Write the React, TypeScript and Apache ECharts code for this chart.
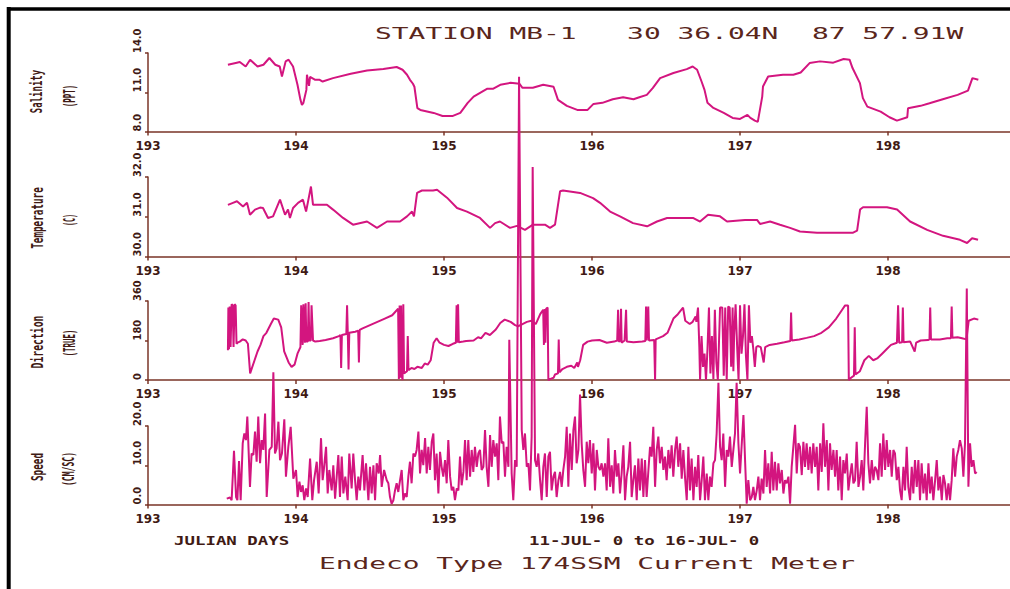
import React, { useEffect, useRef } from "react";
import * as echarts from "echarts";

// ---------- data ----------
const DAY_MIN = 193;
const DAY_MAX = 198.824;
const dayTicks = [193, 194, 195, 196, 197, 198];
const salinityTicks = [8, 11, 14];
const temperatureTicks = [30, 31, 32];
const directionTicks = [0, 180, 360];
const speedTicks = [0, 10, 20];

const title = "STATION MB-1   30 36.04N  87 57.91W";
const xAxisCaption = "JULIAN DAYS";
const dateRange = "11-JUL- 0 to 16-JUL- 0";
const footer = "Endeco Type 174SSM Current Meter";

// [julian day, salinity PPT]
const salinity = [
  [193.54, 13.1], [193.6, 13.26], [193.62, 13.31], [193.66, 12.97], [193.69, 13.49], [193.74, 12.97],
  [193.78, 13.1], [193.82, 13.62], [193.86, 13.1], [193.89, 12.97], [193.905, 12.21], [193.93, 13.36],
  [193.95, 13.49], [193.98, 12.97], [194.01, 11.57], [194.03, 10.42], [194.04, 10.03], [194.05, 10.19],
  [194.07, 11.18], [194.074, 12.34], [194.088, 11.49], [194.095, 12.18], [194.13, 11.95], [194.16, 11.95],
  [194.18, 11.82], [194.25, 12.08], [194.37, 12.41], [194.48, 12.67], [194.59, 12.77], [194.68, 12.93],
  [194.72, 12.72], [194.75, 12.34], [194.77, 11.95], [194.79, 11.65], [194.8, 11.42], [194.82, 9.78],
  [194.84, 9.65], [194.93, 9.42], [194.99, 9.19], [195.06, 9.19], [195.11, 9.42], [195.16, 10.19],
  [195.2, 10.67], [195.29, 11.26], [195.33, 11.26], [195.38, 11.57], [195.45, 11.72], [195.51, 11.65],
  [195.53, 11.34], [195.6, 11.34], [195.67, 11.57], [195.74, 11.42], [195.77, 10.42], [195.83, 9.96],
  [195.9, 9.65], [195.97, 9.65], [196.01, 10.11], [196.07, 10.19], [196.14, 10.47], [196.21, 10.62],
  [196.28, 10.47], [196.32, 10.62], [196.37, 10.8], [196.41, 11.32], [196.46, 12.08], [196.55, 12.47],
  [196.64, 12.77], [196.68, 12.97], [196.71, 12.72], [196.74, 11.82], [196.76, 11.18], [196.78, 10.19],
  [196.82, 9.8], [196.89, 9.42], [196.95, 9.04], [197.0, 8.96], [197.05, 9.27], [197.07, 9.04],
  [197.1, 8.83], [197.12, 8.73], [197.15, 10.67], [197.155, 11.44], [197.19, 12.21], [197.29, 12.34],
  [197.36, 12.34], [197.41, 12.51], [197.47, 13.23], [197.54, 13.36], [197.63, 13.26], [197.7, 13.54],
  [197.74, 13.49], [197.76, 12.85], [197.81, 11.7], [197.83, 10.55], [197.86, 9.9], [197.95, 9.52],
  [198.01, 9.09], [198.06, 8.83], [198.13, 9.09], [198.135, 9.78], [198.22, 9.96], [198.28, 10.16],
  [198.37, 10.47], [198.47, 10.8], [198.54, 11.13], [198.57, 12.08], [198.61, 11.95],
];

// [julian day, temperature C]
const temperature = [
  [193.54, 31.3], [193.574, 31.35], [193.601, 31.39], [193.642, 31.26], [193.669, 31.35], [193.689, 31.05],
  [193.723, 31.18], [193.757, 31.23], [193.777, 31.22], [193.811, 30.97], [193.845, 31.01], [193.892, 31.43],
  [193.926, 31.05], [193.946, 31.18], [193.959, 30.97], [193.98, 31.22], [194.014, 31.35], [194.047, 31.43],
  [194.068, 31.13], [194.101, 31.76], [194.115, 31.3], [194.162, 31.3], [194.209, 31.3], [194.25, 31.18],
  [194.318, 30.97], [194.385, 30.8], [194.48, 30.88], [194.547, 30.72], [194.615, 30.88], [194.703, 30.88],
  [194.75, 31.01], [194.784, 31.13], [194.797, 31.01], [194.818, 31.6], [194.851, 31.66], [194.926, 31.66],
  [194.953, 31.68], [195.02, 31.48], [195.088, 31.22], [195.155, 31.13], [195.243, 30.97], [195.311, 30.72],
  [195.345, 30.84], [195.378, 30.88], [195.446, 30.72], [195.493, 30.77], [195.547, 30.67], [195.601, 30.8],
  [195.682, 30.8], [195.716, 30.72], [195.75, 30.8], [195.784, 31.64], [195.804, 31.66], [195.919, 31.6],
  [196.007, 31.47], [196.054, 31.35], [196.122, 31.13], [196.189, 31.01], [196.277, 30.84], [196.372, 30.76],
  [196.439, 30.88], [196.507, 30.97], [196.682, 30.97], [196.73, 30.88], [196.784, 31.05], [196.865, 31.01],
  [196.912, 30.88], [197.034, 30.92], [197.115, 30.92], [197.135, 30.82], [197.203, 30.88], [197.27, 30.8],
  [197.338, 30.72], [197.405, 30.63], [197.52, 30.6], [197.764, 30.6], [197.791, 30.65], [197.811, 31.18],
  [197.831, 31.24], [197.993, 31.24], [198.061, 31.18], [198.149, 30.88], [198.264, 30.67], [198.372, 30.52],
  [198.486, 30.42], [198.534, 30.34], [198.568, 30.46], [198.608, 30.42],
];

// [julian day, direction deg true]
const direction = [
  [193.54, 136], [193.543, 330], [193.547, 140], [193.552, 335], [193.558, 150], [193.565, 345], [193.572, 340],
  [193.578, 150], [193.585, 345], [193.592, 340], [193.598, 165], [193.605, 170], [193.62, 175], [193.64, 185],
  [193.66, 180], [193.675, 165], [193.69, 30], [193.72, 90], [193.74, 130], [193.76, 160], [193.78, 200],
  [193.8, 215], [193.83, 255], [193.85, 280], [193.88, 275], [193.9, 240], [193.92, 130], [193.95, 80],
  [193.97, 60], [193.99, 70], [194.01, 120], [194.03, 150], [194.035, 340], [194.045, 160], [194.05, 345],
  [194.06, 170], [194.065, 350], [194.07, 175], [194.08, 175], [194.085, 355], [194.09, 180], [194.1, 180],
  [194.105, 340], [194.115, 180], [194.13, 175], [194.16, 178], [194.2, 182], [194.25, 190], [194.29, 200],
  [194.3, 205], [194.305, 55], [194.31, 205], [194.34, 210], [194.345, 340], [194.35, 210], [194.355, 48],
  [194.36, 215], [194.4, 220], [194.42, 225], [194.425, 80], [194.43, 228], [194.45, 235], [194.5, 250],
  [194.55, 265], [194.6, 280], [194.65, 295], [194.67, 310], [194.69, 325], [194.695, 5], [194.7, 340],
  [194.705, 10], [194.71, 340], [194.715, 20], [194.72, 0], [194.725, 345], [194.73, 30], [194.75, 40],
  [194.755, 200], [194.76, 45], [194.78, 55], [194.8, 50], [194.82, 60], [194.85, 55], [194.87, 75],
  [194.89, 70], [194.91, 90], [194.93, 170], [194.95, 190], [194.97, 170], [195.0, 160], [195.03, 155],
  [195.06, 165], [195.08, 170], [195.085, 340], [195.09, 170], [195.095, 345], [195.1, 172], [195.13, 175],
  [195.15, 178], [195.2, 180], [195.23, 195], [195.25, 190], [195.28, 215], [195.31, 205], [195.35, 230],
  [195.38, 260], [195.41, 275], [195.45, 265], [195.48, 250], [195.5, 245], [195.53, 255], [195.56, 265],
  [195.59, 270], [195.62, 255], [195.65, 300], [195.67, 320], [195.675, 160], [195.68, 323], [195.685, 170],
  [195.69, 325], [195.7, 330], [195.705, 0], [195.72, 5], [195.74, 10], [195.75, 25], [195.77, 30],
  [195.775, 185], [195.78, 35], [195.8, 50], [195.83, 60], [195.86, 65], [195.88, 55], [195.9, 80],
  [195.905, 60], [195.92, 90], [195.94, 160], [195.97, 175], [196.0, 180], [196.05, 182], [196.1, 170],
  [196.15, 175], [196.17, 180], [196.176, 320], [196.18, 175], [196.19, 178], [196.196, 325], [196.2, 170],
  [196.22, 180], [196.23, 320], [196.235, 175], [196.28, 172], [196.34, 175], [196.36, 178], [196.365, 335],
  [196.37, 180], [196.38, 335], [196.385, 180], [196.42, 182], [196.426, 0], [196.43, 185], [196.48, 200],
  [196.51, 215], [196.55, 280], [196.58, 300], [196.615, 330], [196.63, 270], [196.66, 255], [196.68, 265],
  [196.7, 290], [196.705, 265], [196.716, 330], [196.725, 150], [196.73, 0], [196.74, 200], [196.75, 60],
  [196.76, 120], [196.77, 0], [196.78, 140], [196.79, 330], [196.8, 30], [196.81, 200], [196.82, 5],
  [196.83, 320], [196.84, 80], [196.85, 0], [196.865, 330], [196.88, 330], [196.89, 20], [196.9, 330],
  [196.91, 0], [196.92, 335], [196.93, 330], [196.94, 60], [196.95, 330], [196.955, 40], [196.96, 200],
  [196.97, 345], [196.98, 160], [196.99, 0], [197.0, 340], [197.01, 120], [197.02, 200], [197.03, 345],
  [197.04, 110], [197.05, 0], [197.06, 340], [197.07, 170], [197.08, 200], [197.09, 140], [197.1, 60],
  [197.11, 150], [197.12, 155], [197.14, 150], [197.16, 80], [197.17, 150], [197.2, 160], [197.25, 165],
  [197.3, 172], [197.34, 178], [197.345, 308], [197.35, 180], [197.4, 185], [197.45, 192], [197.5, 200],
  [197.55, 215], [197.6, 240], [197.65, 280], [197.69, 320], [197.71, 340], [197.73, 340], [197.735, 0],
  [197.75, 10], [197.77, 20], [197.775, 240], [197.78, 25], [197.81, 40], [197.84, 90], [197.87, 110],
  [197.9, 90], [197.93, 100], [197.96, 120], [197.99, 140], [198.02, 160], [198.06, 170], [198.068, 340],
  [198.075, 170], [198.095, 172], [198.1, 330], [198.105, 172], [198.15, 175], [198.18, 130], [198.19, 170],
  [198.22, 180], [198.27, 182], [198.28, 185], [198.285, 330], [198.29, 185], [198.35, 185], [198.4, 190],
  [198.425, 190], [198.43, 335], [198.435, 192], [198.47, 195], [198.5, 190], [198.53, 185], [198.545, 270],
  [198.58, 280], [198.61, 275],
];

// [julian day, speed cm/s]
const speed = [
  [193.532, 1.5], [193.554, 1.8], [193.565, 1.1], [193.581, 13.7], [193.595, 1.9], [193.604, 1.1], [193.615, 11.1],
  [193.626, 1.1], [193.64, 15.6], [193.651, 18.1], [193.662, 16.4], [193.671, 22.4], [193.689, 4.5], [193.7, 13.0],
  [193.712, 12.6], [193.723, 18.6], [193.734, 10.9], [193.745, 22.4], [193.757, 10.5], [193.768, 16.4], [193.779, 13.9],
  [193.791, 23.2], [193.802, 1.9], [193.82, 13.9], [193.836, 14.7], [193.847, 33.7], [193.858, 13.0], [193.869, 14.3],
  [193.881, 21.1], [193.892, 11.3], [193.905, 13.0], [193.921, 21.7], [193.932, 7.1], [193.948, 14.7], [193.964, 19.8],
  [193.982, 6.6], [194.0, 8.8], [194.011, 1.9], [194.023, 5.8], [194.034, 3.2], [194.045, 4.9], [194.056, 1.1],
  [194.068, 4.1], [194.079, 1.9], [194.095, 11.7], [194.11, 1.1], [194.122, 6.2], [194.14, 10.9], [194.153, 2.8],
  [194.169, 16.9], [194.18, 6.2], [194.189, 9.2], [194.203, 14.7], [194.214, 2.8], [194.225, 8.8], [194.241, 3.6],
  [194.252, 10.0], [194.264, 1.5], [194.275, 7.1], [194.286, 12.6], [194.297, 1.9], [194.309, 12.2], [194.32, 2.8],
  [194.333, 7.1], [194.349, 1.1], [194.36, 13.0], [194.376, 4.1], [194.387, 13.0], [194.399, 6.2], [194.41, 1.1],
  [194.421, 7.1], [194.432, 3.6], [194.45, 12.6], [194.462, 3.6], [194.473, 10.5], [194.489, 1.1], [194.5, 9.6],
  [194.511, 2.8], [194.523, 10.0], [194.534, 1.1], [194.545, 10.5], [194.559, 7.9], [194.568, 12.6], [194.579, 4.5],
  [194.595, 8.8], [194.613, 6.2], [194.624, 5.4], [194.635, 1.9], [194.646, 0.2], [194.658, 1.1], [194.669, 3.6],
  [194.68, 5.4], [194.691, 3.2], [194.703, 6.2], [194.714, 8.8], [194.725, 1.1], [194.736, 2.8], [194.748, 1.9],
  [194.759, 7.1], [194.77, 10.9], [194.781, 5.4], [194.793, 13.0], [194.804, 12.2], [194.815, 13.9], [194.827, 18.6],
  [194.838, 7.9], [194.849, 13.9], [194.86, 10.0], [194.872, 16.9], [194.883, 7.9], [194.894, 14.7], [194.905, 8.8],
  [194.917, 16.0], [194.928, 18.1], [194.939, 6.2], [194.95, 13.0], [194.962, 2.8], [194.973, 13.4], [194.984, 9.6],
  [194.995, 7.1], [195.007, 11.3], [195.018, 5.4], [195.029, 16.4], [195.041, 7.1], [195.052, 3.6], [195.063, 4.5],
  [195.074, 1.1], [195.086, 4.1], [195.097, 3.6], [195.108, 12.2], [195.119, 4.9], [195.131, 8.3], [195.142, 16.4],
  [195.153, 6.2], [195.164, 16.4], [195.176, 7.1], [195.187, 13.9], [195.198, 8.3], [195.209, 14.7], [195.221, 9.6],
  [195.232, 13.0], [195.243, 13.9], [195.254, 8.8], [195.266, 9.6], [195.277, 19.0], [195.288, 9.6], [195.3, 4.5],
  [195.311, 17.7], [195.322, 9.6], [195.333, 16.4], [195.345, 12.2], [195.356, 15.6], [195.367, 6.2], [195.378, 22.4],
  [195.39, 15.6], [195.401, 16.0], [195.412, 7.1], [195.423, 14.7], [195.435, 9.6], [195.441, 42.0], [195.457, 7.9],
  [195.468, 1.1], [195.48, 11.3], [195.491, 9.6], [195.507, 109.0], [195.525, 19.0], [195.536, 13.9], [195.547, 18.1],
  [195.559, 9.6], [195.57, 10.5], [195.581, 3.6], [195.592, 17.3], [195.599, 86.0], [195.615, 11.3], [195.626, 9.6],
  [195.637, 13.0], [195.649, 6.2], [195.66, 1.1], [195.671, 9.6], [195.682, 13.0], [195.694, 1.9], [195.705, 12.2],
  [195.716, 13.4], [195.727, 3.6], [195.739, 7.1], [195.75, 8.3], [195.761, 1.9], [195.773, 6.2], [195.784, 8.3],
  [195.795, 4.5], [195.806, 8.8], [195.818, 12.2], [195.829, 19.8], [195.84, 4.5], [195.851, 18.1], [195.863, 8.8],
  [195.874, 19.0], [195.885, 22.4], [195.896, 10.5], [195.908, 13.9], [195.919, 28.0], [195.93, 15.6], [195.941, 8.8],
  [195.953, 4.5], [195.964, 16.0], [195.975, 10.5], [195.986, 16.4], [195.998, 7.9], [196.009, 15.6], [196.02, 3.6],
  [196.032, 13.9], [196.043, 9.6], [196.054, 8.8], [196.065, 10.5], [196.077, 7.1], [196.088, 10.5], [196.099, 3.6],
  [196.11, 16.9], [196.122, 4.5], [196.133, 10.0], [196.144, 2.8], [196.155, 13.9], [196.167, 7.1], [196.178, 10.5],
  [196.189, 2.8], [196.2, 7.9], [196.212, 15.1], [196.223, 1.1], [196.234, 7.1], [196.245, 9.6], [196.257, 16.0],
  [196.268, 1.9], [196.279, 6.2], [196.29, 10.0], [196.302, 1.1], [196.313, 11.7], [196.324, 3.6], [196.336, 11.7],
  [196.347, 1.9], [196.358, 11.3], [196.369, 1.9], [196.381, 8.8], [196.392, 14.7], [196.403, 12.2], [196.414, 19.8],
  [196.426, 4.5], [196.437, 13.9], [196.448, 17.3], [196.459, 10.5], [196.471, 14.7], [196.482, 8.8], [196.493, 12.2],
  [196.504, 6.2], [196.516, 13.9], [196.527, 9.2], [196.538, 15.1], [196.549, 7.1], [196.561, 13.9], [196.572, 17.3],
  [196.583, 9.6], [196.595, 15.6], [196.606, 6.6], [196.617, 13.9], [196.628, 7.1], [196.64, 1.1], [196.651, 14.7],
  [196.662, 3.6], [196.673, 11.7], [196.685, 1.1], [196.696, 9.6], [196.707, 4.5], [196.718, 12.6], [196.73, 1.1],
  [196.741, 6.2], [196.752, 12.2], [196.763, 1.1], [196.775, 7.9], [196.786, 1.1], [196.797, 7.1], [196.808, 4.5],
  [196.82, 10.5], [196.831, 11.3], [196.842, 18.1], [196.854, 31.0], [196.865, 14.7], [196.876, 11.3], [196.887, 18.1],
  [196.899, 4.5], [196.91, 13.9], [196.921, 12.2], [196.932, 17.3], [196.944, 9.6], [196.955, 13.9], [196.966, 18.1],
  [196.977, 31.0], [196.989, 15.6], [197.0, 7.9], [197.023, 22.8], [197.034, 11.3], [197.045, 0.2], [197.056, 6.2],
  [197.068, 1.1], [197.079, 1.9], [197.09, 4.5], [197.101, 1.1], [197.113, 3.6], [197.124, 7.1], [197.135, 1.1],
  [197.146, 6.6], [197.158, 2.8], [197.169, 13.9], [197.18, 4.5], [197.191, 10.5], [197.203, 2.8], [197.214, 13.4],
  [197.225, 3.6], [197.236, 10.9], [197.248, 3.6], [197.259, 10.5], [197.27, 5.4], [197.282, 8.8], [197.293, 2.8],
  [197.304, 6.2], [197.315, 5.4], [197.327, 7.1], [197.338, 0.2], [197.349, 9.6], [197.36, 14.7], [197.372, 20.3],
  [197.383, 7.9], [197.394, 15.6], [197.405, 14.7], [197.417, 7.5], [197.428, 16.0], [197.439, 9.6], [197.45, 15.6],
  [197.462, 8.8], [197.473, 14.7], [197.484, 7.9], [197.495, 15.6], [197.507, 9.6], [197.518, 14.7], [197.529, 3.6],
  [197.541, 15.6], [197.552, 8.3], [197.563, 20.7], [197.574, 9.6], [197.586, 16.4], [197.597, 3.6], [197.608, 15.6],
  [197.619, 8.8], [197.631, 13.9], [197.642, 7.1], [197.653, 13.9], [197.664, 3.6], [197.676, 12.2], [197.687, 1.1],
  [197.698, 11.3], [197.709, 7.9], [197.721, 13.0], [197.732, 3.6], [197.743, 7.1], [197.755, 10.5], [197.766, 5.4],
  [197.777, 6.2], [197.788, 16.0], [197.8, 4.5], [197.811, 7.1], [197.822, 11.3], [197.833, 3.6], [197.845, 15.6],
  [197.856, 24.9], [197.867, 10.5], [197.878, 5.4], [197.89, 11.3], [197.901, 6.2], [197.912, 9.6], [197.923, 8.8],
  [197.935, 6.2], [197.946, 15.6], [197.957, 7.1], [197.968, 18.1], [197.98, 8.8], [197.991, 16.4], [198.002, 9.6],
  [198.014, 13.9], [198.025, 7.1], [198.036, 13.9], [198.047, 13.0], [198.059, 6.2], [198.07, 9.6], [198.081, 3.6],
  [198.092, 1.1], [198.104, 9.6], [198.115, 3.6], [198.126, 14.7], [198.137, 4.5], [198.149, 1.1], [198.16, 9.6],
  [198.171, 2.8], [198.182, 11.3], [198.194, 4.5], [198.205, 11.3], [198.216, 1.1], [198.227, 10.5], [198.239, 2.8],
  [198.25, 7.9], [198.261, 1.1], [198.273, 10.5], [198.284, 2.8], [198.295, 7.1], [198.306, 1.1], [198.318, 6.2],
  [198.329, 11.3], [198.34, 3.6], [198.351, 7.1], [198.363, 1.1], [198.374, 7.5], [198.385, 5.4], [198.396, 1.1],
  [198.408, 5.4], [198.419, 1.1], [198.43, 6.2], [198.441, 14.3], [198.453, 7.1], [198.464, 12.2], [198.475, 13.9],
  [198.486, 16.4], [198.498, 14.3], [198.509, 7.1], [198.52, 15.6], [198.532, 55.0], [198.543, 4.5], [198.554, 15.6],
  [198.565, 9.6], [198.577, 11.3], [198.588, 7.9], [198.599, 8.3],
];

// ---------- styling ----------
const MAGENTA = "#d3157f";
const AXIS = "#7a3527";
const INK = "#3f1a14";
const TITLE_INK = "#5a261c";
const MONO = "'DejaVu Sans Mono', 'Liberation Mono', monospace";
const NARROW = "'Liberation Sans Narrow', 'DejaVu Sans Condensed', 'Arial Narrow', sans-serif";

const grids = [
  { top: 53, height: 78.5 },
  { top: 177, height: 79.5 },
  { top: 301, height: 79 },
  { top: 426, height: 78.5 },
];

const panels = [
  { data: salinity, ticks: salinityTicks, fmt: (v: number) => v.toFixed(1), names: [["Salinity", 0.6, 91.5], ["(PPT)", 0.5, 96]] },
  { data: temperature, ticks: temperatureTicks, fmt: (v: number) => v.toFixed(1), names: [["Temperature", 0.62, 218], ["(C)", 0.45, 220]] },
  { data: direction, ticks: directionTicks, fmt: (v: number) => String(Math.round(v)), names: [["Direction", 0.65, 342], ["(TRUE)", 0.5, 343]] },
  { data: speed, ticks: speedTicks, fmt: (v: number) => v.toFixed(1), names: [["Speed", 0.62, 467], ["(CM/SC)", 0.54, 469]] },
];

export default function App() {
  const ref = useRef<HTMLDivElement>(null);

  useEffect(() => {
    if (!ref.current) return;
    const chart = echarts.init(ref.current, null, { renderer: "svg" });

    const graphic: any[] = [
      { type: "line", shape: { x1: 8.7, y1: 7, x2: 8.7, y2: 589 }, style: { stroke: "#000", lineWidth: 4 } },
      { type: "line", shape: { x1: 7, y1: 9, x2: 1010, y2: 9 }, style: { stroke: "#000", lineWidth: 3.6 } },
      {
        type: "text", x: 375, y: 33, scaleX: 1.745,
        style: { text: title, font: `16px ${MONO}`, fill: TITLE_INK, textAlign: "left", textVerticalAlign: "middle" },
      },
      {
        type: "text", x: 319, y: 563, scaleX: 1.74,
        style: { text: footer, font: `16px ${MONO}`, fill: TITLE_INK, textAlign: "left", textVerticalAlign: "middle" },
      },
      {
        type: "text", x: 174, y: 541, scaleX: 1.45,
        style: { text: xAxisCaption, font: `bold 12px ${MONO}`, fill: INK, textAlign: "left", textVerticalAlign: "middle" },
      },
      {
        type: "text", x: 529, y: 541, scaleX: 1.45,
        style: { text: dateRange, font: `bold 12px ${MONO}`, fill: INK, textAlign: "left", textVerticalAlign: "middle" },
      },
    ];
    panels.forEach((p) => {
      p.names.forEach((n: any, j: number) => {
        graphic.push({
          type: "text", x: j === 0 ? 37.5 : 69.5, y: n[2], rotation: Math.PI / 2, scaleX: n[1],
          style: { text: n[0], font: `bold 15px ${MONO}`, fill: INK, textAlign: "center", textVerticalAlign: "middle" },
        });
      });
    });

    const option: any = {
      animation: false,
      backgroundColor: "#ffffff",
      grid: grids.map((g) => ({ left: 148, right: 0, top: g.top, height: g.height, containLabel: false, outerBoundsMode: "none" })),
      xAxis: grids.map((_, i) => ({
        type: "value",
        gridIndex: i,
        min: DAY_MIN,
        max: DAY_MAX,
        interval: 1,
        axisLine: { show: true, onZero: false, lineStyle: { color: AXIS, width: 1.5 } },
        axisTick: { show: true, length: 4, customValues: dayTicks, lineStyle: { color: AXIS, width: 1.5 } },
        axisLabel: {
          show: true, customValues: dayTicks, margin: 8,
          formatter: (v: number) => String(Math.round(v)),
          color: INK, fontFamily: "'DejaVu Sans', sans-serif", fontWeight: "bold", fontSize: 12,
        },
        splitLine: { show: false },
      })),
      yAxis: panels.map((p, i) => ({
        type: "value",
        gridIndex: i,
        min: p.ticks[0],
        max: p.ticks[2],
        interval: p.ticks[1] - p.ticks[0],
        axisLine: { show: true, onZero: false, lineStyle: { color: AXIS, width: 1.5 } },
        axisTick: { show: true, length: 3, customValues: p.ticks, lineStyle: { color: AXIS, width: 1.5 } },
        axisLabel: {
          show: true, customValues: p.ticks, rotate: 90, align: "left", verticalAlign: "bottom", margin: 5,
          formatter: p.fmt, color: INK, fontFamily: NARROW, fontWeight: "bold", fontSize: 11,
          showMinLabel: true, showMaxLabel: true, hideOverlap: false,
        },
        splitLine: { show: false },
      })),
      series: panels.map((p, i) => ({
        type: "line",
        xAxisIndex: i,
        yAxisIndex: i,
        data: p.data,
        showSymbol: false,
        symbol: "none",
        clip: false,
        silent: true,
        z: 3 + i,
        lineStyle: { color: MAGENTA, width: 2 },
        itemStyle: { color: MAGENTA },
      })),
      graphic,
    };
    chart.setOption(option);
    return () => chart.dispose();
  }, []);

  return (
    <div
      ref={ref}
      style={{ position: "fixed", left: 0, top: 0, width: 1010, height: 589, background: "#fff" }}
    />
  );
}
